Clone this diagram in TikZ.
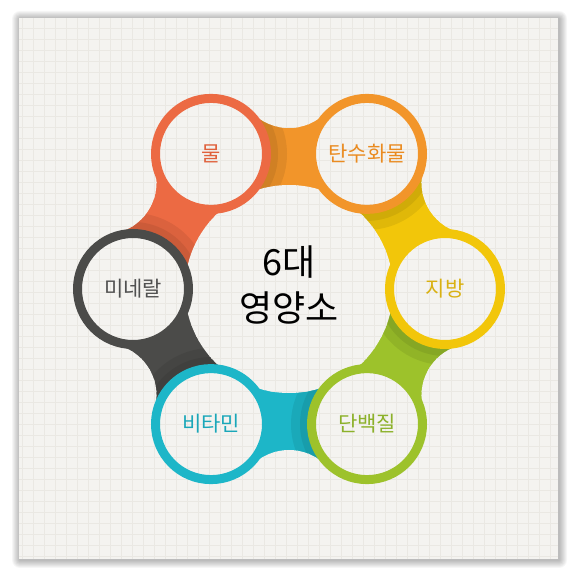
\documentclass[tikz,border=0pt]{standalone}
\usepackage{fontspec}
\setmainfont{Noto Sans CJK KR}
\usepackage{xcolor}
\usepackage{tikz}
\usetikzlibrary{calc}
\definecolor{panel}{HTML}{F4F3F0}
\definecolor{linen}{HTML}{EAE8E3}
\definecolor{cWater}{HTML}{EC6A43}
\definecolor{cCarb}{HTML}{F2952A}
\definecolor{cFat}{HTML}{F2C60A}
\definecolor{cProtein}{HTML}{9DC22B}
\definecolor{cVitamin}{HTML}{1DB6C8}
\definecolor{cMineral}{HTML}{4B4B49}
\definecolor{tWater}{HTML}{E0613C}
\definecolor{tCarb}{HTML}{EA8B20}
\definecolor{tFat}{HTML}{D9B112}
\definecolor{tProtein}{HTML}{8CB12A}
\definecolor{tVitamin}{HTML}{1AA7B9}
\definecolor{tMineral}{HTML}{505050}
\newcommand{\tagfont}{\fontsize{21}{25}\selectfont}
\newcommand{\corefont}{\fontsize{36}{46}\selectfont}
\pgfdeclarelayer{bg}
\pgfdeclarelayer{bridge}
\pgfsetlayers{bg,bridge,main}

\begin{document}
\begin{tikzpicture}[x=1pt, y=1pt,
        ring/.style={circle, draw=#1, line width=9pt, minimum size=111pt, inner sep=0pt, font=\tagfont},
        linengrid/.style={linen, line width=0.4pt, step=11}]

            \useasboundingbox (0, 0) rectangle (578, 578);

            \coordinate (O) at (289, 289);

            \node[ring=cWater, text=tWater] (water) at ($(O)+(120:156)$) {물};
            \node[ring=cCarb, text=tCarb] (carb) at ($(O)+(60:156)$) {탄수화물};
            \node[ring=cFat, text=tFat] (fat) at ($(O)+(0:156)$) {지방};
            \node[ring=cProtein, text=tProtein] (protein) at ($(O)+(-60:156)$) {단백질};
            \node[ring=cVitamin, text=tVitamin] (vitamin) at ($(O)+(-120:156)$) {비타민};
            \node[ring=cMineral, text=tMineral] (mineral) at ($(O)+(180:156)$) {미네랄};

            \node[align=center, font=\corefont, text=black] (core) at ($(O)+(0, 4)$) {6대\\영양소};

            \begin{pgfonlayer}{bg}
                \fill[white] (0, 0) rectangle (578, 578);
                \foreach \s in {1,...,8}
                    \fill[black, opacity=0.035, rounded corners=\s pt] (19-\s+1, 19-\s-1) rectangle (558+\s+1, 560+\s-1);
                \fill[panel] (19, 19) rectangle (558, 560);
                \draw[linengrid] (19, 19) grid (558, 560);
            \end{pgfonlayer}

            % each band takes the colour of the next ring and slips under the previous one
            \begin{pgfonlayer}{bridge}
                \foreach \pc [count=\k from 0] in {cCarb, cFat, cProtein, cVitamin, cMineral, cWater} {
                    \begin{scope}[shift={(O)}, rotate=-60*\k]
                        \clip (0, 0) -- (120:185) arc[start angle=120, end angle=60, radius=185] -- cycle;
                        \fill[\pc] (0, 0) -- (120:185) arc[start angle=120, end angle=60, radius=185] -- cycle;
                        \fill[black, opacity=0.07] (120:156) circle (76);
                        \fill[black, opacity=0.07] (120:156) circle (67);
                    \end{scope}
                    \fill[panel] ($(O)+(90-60*\k:213)$) circle (52);
                }
                \fill[panel] (O) circle (104);
                \foreach \n in {water, carb, fat, protein, vitamin, mineral}
                    \fill[panel] (\n.center) circle (56);

                % linen back on the cut-outs
                \foreach \n/\rad in {O/104, water/56, carb/56, fat/56, protein/56, vitamin/56, mineral/56} {
                    \begin{scope}
                        \clip (\n.center) circle (\rad);
                        \draw[linengrid] (19, 19) grid (558, 560);
                    \end{scope}
                }
                \foreach \k in {0,...,5} {
                    \begin{scope}
                        \clip ($(O)+(90-60*\k:213)$) circle (52);
                        \draw[linengrid] (19, 19) grid (558, 560);
                    \end{scope}
                }
            \end{pgfonlayer}

        \end{tikzpicture}
\end{document}
